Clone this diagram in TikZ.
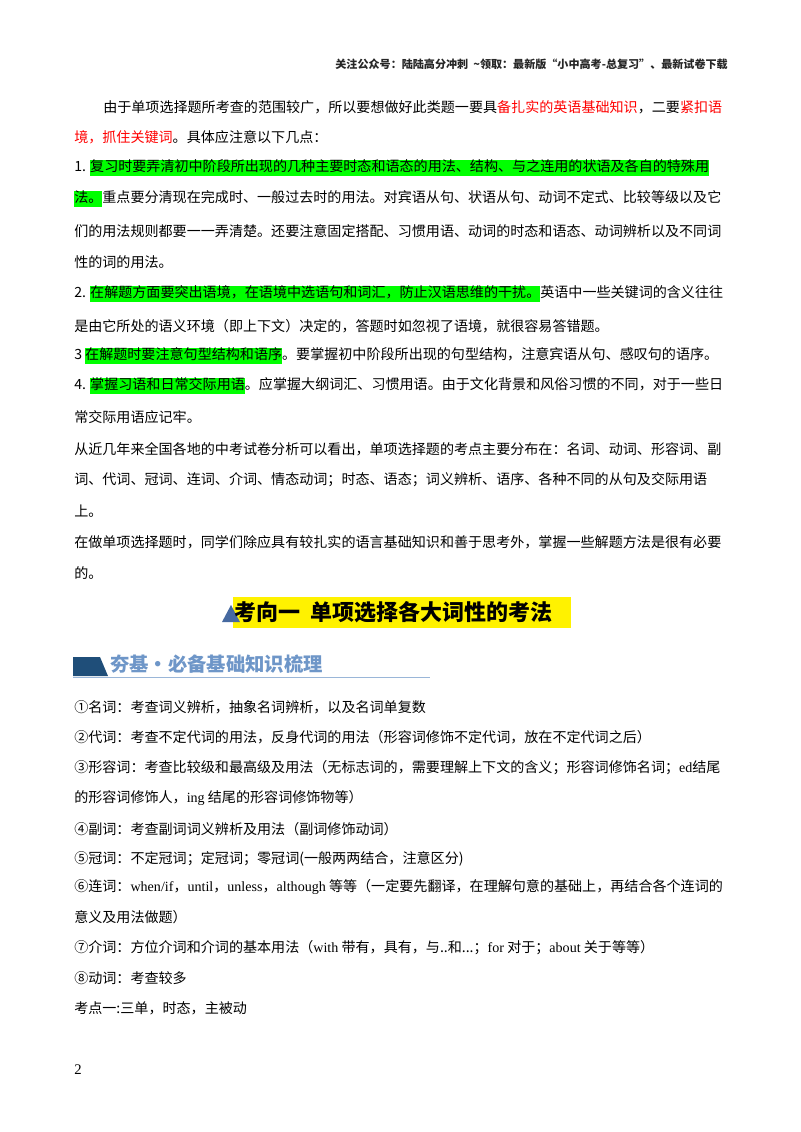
\documentclass[tikz,border=0pt]{standalone}
\usepackage{fontspec}
\setmainfont{Noto Sans CJK SC}
\newfontfamily\en{Liberation Serif}
\definecolor{hlg}{RGB}{0,255,0}
\definecolor{redt}{RGB}{255,0,0}
\definecolor{bann}{RGB}{31,78,121}
\definecolor{bannt}{RGB}{110,150,200}
\definecolor{tri}{RGB}{70,105,160}
\newcommand{\hg}[1]{{\setlength{\fboxsep}{0pt}\colorbox{hlg}{\strut #1}}}
\begin{document}
\begin{tikzpicture}[x=0.75pt,y=-0.75pt,
  ln/.style={anchor=west,inner sep=0pt,font=\fontsize{10.55pt}{12pt}\selectfont}]
\useasboundingbox[fill=white] (0,0) rectangle (800,1132);
\node[anchor=east,inner sep=0pt,font=\fontsize{8.3pt}{9pt}\selectfont\bfseries,text=black!85] (hdr) at (728,64) {关注公众号：陆陆高分冲刺\ \ \textasciitilde 领取：最新版“小中高考-总复习”、最新试卷下载};
\node[ln] (l1) at (103,107) {由于单项选择题所考查的范围较广，所以要想做好此类题一要具\textcolor{redt}{备扎实的英语基础知识}，二要\textcolor{redt}{紧扣语}};
\node[ln] (l2) at (74,137) {\textcolor{redt}{境，抓住关键词}。具体应注意以下几点：};
\node[ln] (l3) at (74,168) {1. \hg{复习时要弄清初中阶段所出现的几种主要时态和语态的用法、结构、与之连用的状语及各自的特殊用}};
\node[ln] (l4) at (74,199) {\hg{法。}重点要分清现在完成时、一般过去时的用法。对宾语从句、状语从句、动词不定式、比较等级以及它};
\node[ln] (l5) at (74,231) {们的用法规则都要一一弄清楚。还要注意固定搭配、习惯用语、动词的时态和语态、动词辨析以及不同词};
\node[ln] (l6) at (74,262) {性的词的用法。};
\node[ln] (l7) at (74,294) {2. \hg{在解题方面要突出语境，在语境中选语句和词汇，防止汉语思维的干扰。}英语中一些关键词的含义往往};
\node[ln] (l8) at (74,326) {是由它所处的语义环境（即上下文）决定的，答题时如忽视了语境，就很容易答错题。};
\node[ln] (l9) at (74,356) {3\ \hg{在解题时要注意句型结构和语序}。要掌握初中阶段所出现的句型结构，注意宾语从句、感叹句的语序。};
\node[ln] (l10) at (74,386) {4. \hg{掌握习语和日常交际用语}。应掌握大纲词汇、习惯用语。由于文化背景和风俗习惯的不同，对于一些日};
\node[ln] (l11) at (74,417) {常交际用语应记牢。};
\node[ln] (l12) at (74,449) {从近几年来全国各地的中考试卷分析可以看出，单项选择题的考点主要分布在：名词、动词、形容词、副};
\node[ln] (l13) at (74,480) {词、代词、冠词、连词、介词、情态动词；时态、语态；词义辨析、语序、各种不同的从句及交际用语};
\node[ln] (l14) at (74,511) {上。};
\node[ln] (l15) at (74,542) {在做单项选择题时，同学们除应具有较扎实的语言基础知识和善于思考外，掌握一些解题方法是很有必要};
\node[ln] (l16) at (74,573) {的。};
% heading
\fill[yellow] (233,597) rectangle (571,628);
\fill[tri] (222,622) -- (231,605) -- (240,622) -- cycle;
\node[anchor=west,inner sep=0pt,font=\fontsize{16.5pt}{18pt}\selectfont\bfseries] (h1) at (234,612) {考向一\ \ 单项选择各大词性的考法};
% banner
\fill[bann] (73,657) -- (100,657) -- (108,676) -- (73,676) -- cycle;
\draw[bannt!70,line width=0.8pt] (73,677.5) -- (430,677.5);
\node[anchor=west,inner sep=0pt,text=bannt,font=\fontsize{14.5pt}{16pt}\selectfont\bfseries] (h2) at (110,664) {夯基·必备基础知识梳理};
% list
\node[ln] (m1) at (74,707) {①名词：考查词义辨析，抽象名词辨析，以及名词单复数};
\node[ln] (m2) at (74,737) {②代词：考查不定代词的用法，反身代词的用法（形容词修饰不定代词，放在不定代词之后）};
\node[ln] (m3) at (74,768) {③形容词：考查比较级和最高级及用法（无标志词的，需要理解上下文的含义；形容词修饰名词；{\en ed}结尾};
\node[ln] (m4) at (74,798) {的形容词修饰人，{\en ing} 结尾的形容词修饰物等）};
\node[ln] (m5) at (74,829) {④副词：考查副词词义辨析及用法（副词修饰动词）};
\node[ln] (m6) at (74,859) {⑤冠词：不定冠词；定冠词；零冠词(一般两两结合，注意区分)};
\node[ln] (m7) at (74,887) {⑥连词：{\en when/if}，{\en until}，{\en unless}，{\en although} 等等（一定要先翻译，在理解句意的基础上，再结合各个连词的};
\node[ln] (m8) at (74,917) {意义及用法做题）};
\node[ln] (m9) at (74,948) {⑦介词：方位介词和介词的基本用法（{\en with} 带有，具有，与..和...；{\en for} 对于；{\en about} 关于等等）};
\node[ln] (m10) at (74,978) {⑧动词：考查较多};
\node[ln] (m11) at (74,1008) {考点一:三单，时态，主被动};
\node[ln,font=\en\fontsize{11pt}{12pt}\selectfont] (pg) at (74,1070) {2};
\end{tikzpicture}
\end{document}
